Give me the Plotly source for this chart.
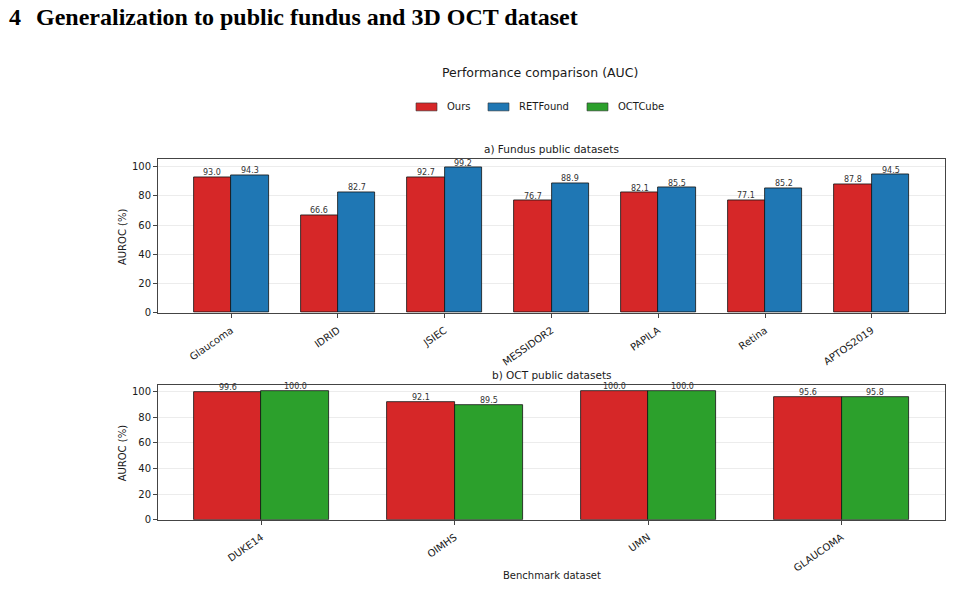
import plotly.graph_objects as go

fundus_datasets = ["Glaucoma", "IDRID", "JSIEC", "MESSIDOR2", "PAPILA", "Retina", "APTOS2019"]
fundus_ours = [93.0, 66.6, 92.7, 76.7, 82.1, 77.1, 87.8]
fundus_retfound = [94.3, 82.7, 99.2, 88.9, 85.5, 85.2, 94.5]

oct_datasets = ["DUKE14", "OIMHS", "UMN", "GLAUCOMA"]
oct_ours = [99.6, 92.1, 100.0, 95.6]
oct_octcube = [100.0, 89.5, 100.0, 95.8]

series_names = ["Ours", "RETFound", "OCTCube"]
series_colors = ["#d62728", "#1f77b4", "#2ca02c"]
y_ticks = [0, 20, 40, 60, 80, 100]

W, H = 953, 592
BW = 0.35
TXT = "#1a1a1a"
FONT = "DejaVu Sans"

def px_x(p):
    return p / W

def px_y(p):
    return 1 - p / H

fig = go.Figure()
ann = []

def add_bars(cats, vals, name, color, offset, xa, ya):
    fig.add_trace(go.Bar(
        x=cats, y=vals, name=name, width=BW, offset=offset,
        marker=dict(color=color, line=dict(color="#111111", width=0.8)),
        xaxis=xa, yaxis=ya, showlegend=False,
    ))
    # value labels just above each bar (category index + bar centre offset)
    for i, v in enumerate(vals):
        ann.append(dict(text=f"{v:.1f}", x=i + offset + BW / 2, y=v, xref=xa, yref=ya,
                        xanchor="center", yanchor="bottom", showarrow=False, borderpad=0,
                        yshift=-1, font=dict(size=8, color="#333333", family=FONT)))

add_bars(fundus_datasets, fundus_ours, series_names[0], series_colors[0], -BW, "x", "y")
add_bars(fundus_datasets, fundus_retfound, series_names[1], series_colors[1], 0, "x", "y")
add_bars(oct_datasets, oct_ours, series_names[0], series_colors[0], -BW, "x2", "y2")
add_bars(oct_datasets, oct_octcube, series_names[2], series_colors[2], 0, "x2", "y2")

def n_range(n):
    m = (n - 1 + 2 * BW) * 0.05
    return [-BW - m, n - 1 + BW + m]

xcommon = dict(
    showline=True, linecolor="#444444", linewidth=1, mirror=True,
    ticks="outside", ticklen=4, tickcolor="#444444", tickangle=-35,
    ticklabelstandoff=3,
    tickfont=dict(size=10, color=TXT, family=FONT), showgrid=False,
    type="category", zeroline=False,
)
ycommon = dict(
    range=[0, 105], tickvals=y_ticks,
    showline=True, linecolor="#444444", linewidth=1, mirror=True,
    ticks="outside", ticklen=4, tickcolor="#444444",
    tickfont=dict(size=10, color=TXT, family=FONT),
    showgrid=True, gridcolor="#ececec", gridwidth=1, zeroline=False,
)

fig.update_layout(
    width=W, height=H, margin=dict(l=0, r=0, t=0, b=0),
    paper_bgcolor="white", plot_bgcolor="white",
    bargap=0, showlegend=False,
    font=dict(family=FONT, color=TXT),
    xaxis=dict(domain=[px_x(158), px_x(945)], anchor="y", range=n_range(len(fundus_datasets)), **xcommon),
    yaxis=dict(domain=[px_y(316), px_y(161)], anchor="x", **ycommon),
    xaxis2=dict(domain=[px_x(158), px_x(945)], anchor="y2", range=n_range(len(oct_datasets)), **xcommon),
    yaxis2=dict(domain=[px_y(525), px_y(389)], anchor="x2", **ycommon),
)

ann.append(dict(text="<b>4</b>", x=px_x(7), y=px_y(17), xref="paper", yref="paper",
                xanchor="left", yanchor="middle", showarrow=False,
                font=dict(family="Liberation Serif", size=24, color="black")))
ann.append(dict(text="<b>Generalization to public fundus and 3D OCT dataset</b>", x=px_x(34), y=px_y(17),
                xref="paper", yref="paper", xanchor="left", yanchor="middle", showarrow=False,
                font=dict(family="Liberation Serif", size=24, color="black")))
ann.append(dict(text="Performance comparison (AUC)", x=px_x(540), y=px_y(73), xref="paper", yref="paper",
                xanchor="center", yanchor="middle", showarrow=False, font=dict(size=12.5, color=TXT)))
ann.append(dict(text="a) Fundus public datasets", x=px_x(551.5), y=px_y(151), xref="paper", yref="paper",
                xanchor="center", yanchor="middle", showarrow=False, font=dict(size=10.5, color=TXT)))
ann.append(dict(text="b) OCT public datasets", x=px_x(551.5), y=px_y(379), xref="paper", yref="paper",
                xanchor="center", yanchor="middle", showarrow=False, font=dict(size=10.5, color=TXT)))
for yc in (238.5, 457):
    ann.append(dict(text="AUROC (%)", x=px_x(122), y=px_y(yc), xref="paper", yref="paper",
                    xanchor="center", yanchor="middle", textangle=-90, showarrow=False,
                    font=dict(size=10, color=TXT)))
ann.append(dict(text="Benchmark dataset", x=px_x(552), y=px_y(581), xref="paper", yref="paper",
                xanchor="center", yanchor="middle", showarrow=False, font=dict(size=10, color=TXT)))

# legend (custom swatches)
shapes = []
leg_x = [416, 488, 587]
for name, color, lx in zip(series_names, series_colors, leg_x):
    shapes.append(dict(type="rect", xref="paper", yref="paper",
                       x0=px_x(lx), x1=px_x(lx + 21), y0=px_y(112), y1=px_y(104),
                       fillcolor=color, line=dict(color="#333333", width=0.6)))
    ann.append(dict(text=name, x=px_x(lx + 29), y=px_y(108), xref="paper", yref="paper",
                    xanchor="left", yanchor="middle", showarrow=False, font=dict(size=10, color=TXT)))

fig.update_layout(annotations=ann, shapes=shapes)
fig.write_html("out.html")
